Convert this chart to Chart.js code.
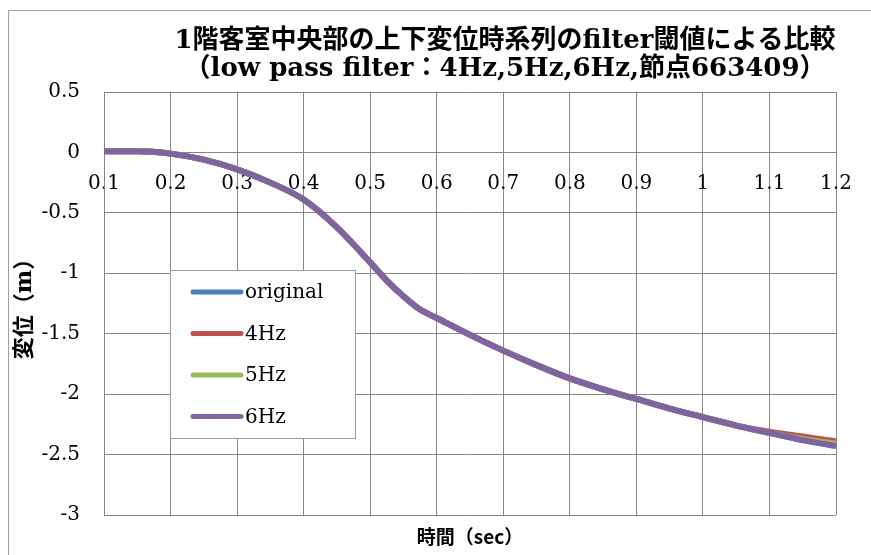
<!DOCTYPE html>
<html>
<head>
<meta charset="utf-8">
<script src="https://cdn.jsdelivr.net/npm/chart.js@4.4.0/dist/chart.umd.min.js"></script>
<style>
  html, body { margin: 0; padding: 0; background: #fff; }
  canvas { display: block; }
</style>
</head>
<body>
<canvas id="chart" width="871" height="555"></canvas>
<script>
const titleLines = [
  "1階客室中央部の上下変位時系列のfilter閾値による比較",
  "（low pass filter：4Hz,5Hz,6Hz,節点663409）",
];
const xTitle = "時間（sec）";
const yTitle = "変位（m）";
const xTicks = [0.1, 0.2, 0.3, 0.4, 0.5, 0.6, 0.7, 0.8, 0.9, 1, 1.1, 1.2];
const yTicks = [0.5, 0, -0.5, -1, -1.5, -2, -2.5, -3];

const seriesNames = ["original", "4Hz", "5Hz", "6Hz"];
const seriesColors = ["#4f81bd", "#c0504d", "#9bbb59", "#8064a2"];

const timeSec = [0.1, 0.15, 0.2, 0.25, 0.3, 0.35, 0.4, 0.45, 0.5, 0.525, 0.55, 0.575, 0.6, 0.65, 0.7, 0.75, 0.8, 0.85, 0.9, 0.95, 1.0, 1.05, 1.1, 1.15, 1.2];
const original = [0.01, 0.01, -0.01, -0.06, -0.14, -0.25, -0.39, -0.62, -0.91, -1.06, -1.19, -1.30, -1.37, -1.51, -1.64, -1.76, -1.87, -1.96, -2.04, -2.12, -2.19, -2.26, -2.32, -2.38, -2.43];
const hz4 = [0.01, 0.01, -0.01, -0.06, -0.14, -0.25, -0.39, -0.62, -0.91, -1.06, -1.19, -1.30, -1.37, -1.51, -1.64, -1.76, -1.87, -1.96, -2.04, -2.12, -2.19, -2.26, -2.31, -2.35, -2.39];
const hz5 = [0.01, 0.01, -0.01, -0.06, -0.14, -0.25, -0.39, -0.62, -0.91, -1.06, -1.19, -1.30, -1.37, -1.51, -1.64, -1.76, -1.87, -1.96, -2.04, -2.12, -2.19, -2.26, -2.32, -2.37, -2.41];
const hz6 = [0.01, 0.01, -0.01, -0.06, -0.14, -0.25, -0.39, -0.62, -0.91, -1.06, -1.19, -1.30, -1.37, -1.51, -1.64, -1.76, -1.87, -1.96, -2.04, -2.12, -2.19, -2.26, -2.32, -2.38, -2.43];
const seriesValues = [original, hz4, hz5, hz6];

const gridColor = "#878787";
const serif = "'DejaVu Serif', 'Noto Sans CJK JP', serif";

// outer frame, title and the boxed legend inside the plot
const decorations = {
  id: "decorations",
  beforeDraw(chart) {
    const ctx = chart.ctx;
    ctx.save();
    ctx.strokeStyle = "#a0a0a0";
    ctx.lineWidth = 1;
    ctx.beginPath();
    ctx.moveTo(8.5, 560);
    ctx.lineTo(8.5, 10.5);
    ctx.lineTo(871, 10.5);
    ctx.stroke();
    ctx.restore();
  },
  afterDraw(chart) {
    const ctx = chart.ctx;
    ctx.save();
    ctx.fillStyle = "#000";
    ctx.textAlign = "center";
    ctx.textBaseline = "middle";
    ctx.font = "bold 26px " + serif;
    ctx.fillText(titleLines[0], 505, 41);
    ctx.fillText(titleLines[1], 505, 69);

    ctx.fillStyle = "#fff";
    ctx.fillRect(170, 270, 185, 168);
    ctx.strokeStyle = "#8d9cb2";
    ctx.lineWidth = 1;
    ctx.strokeRect(170.5, 270.5, 185, 168);
    ctx.font = "20px " + serif;
    ctx.textAlign = "left";
    chart.data.datasets.forEach((ds, i) => {
      const y = 292 + i * 41.5;
      ctx.strokeStyle = ds.borderColor;
      ctx.lineWidth = 5;
      ctx.lineCap = "round";
      ctx.beginPath();
      ctx.moveTo(193, y);
      ctx.lineTo(241, y);
      ctx.stroke();
      ctx.fillStyle = "#000";
      ctx.fillText(ds.label, 245, y + 1);
    });
    ctx.restore();
  },
};

const chrt = document.getElementById("chart").getContext("2d");
const chartId = new Chart(chrt, {
  type: "line",
  data: {
    datasets: seriesNames.map((name, i) => ({
      label: name,
      data: timeSec.map((t, j) => ({ x: t, y: seriesValues[i][j] })),
      borderColor: seriesColors[i],
      backgroundColor: seriesColors[i],
      borderWidth: 6,
      pointRadius: 0,
      tension: 0.4,
      cubicInterpolationMode: "monotone",
      order: seriesNames.length - i,
    })),
  },
  options: {
    responsive: false,
    animation: false,
    layout: { padding: { left: 0, top: 92, right: 35, bottom: 0 } },
    plugins: {
      legend: { display: false },
      title: { display: false },
      tooltip: { enabled: false },
    },
    scales: {
      x: {
        type: "linear",
        position: { y: 0 },
        min: 0.1,
        max: 1.2,
        afterBuildTicks: (s) => { s.ticks = xTicks.map((v) => ({ value: v })); },
        ticks: {
          autoSkip: false,
          maxRotation: 0,
          padding: 19,
          color: "#000",
          font: { family: serif, size: 20 },
          callback: (v) => String(Math.round(v * 10) / 10),
        },
        grid: { color: gridColor, lineWidth: 1, drawTicks: false },
        border: { color: gridColor, width: 1 },
      },
      x2: {
        type: "linear",
        position: "bottom",
        afterFit: (s) => { s.height = 40; },
        ticks: { display: false },
        grid: { display: false },
        border: { display: false },
        title: {
          display: true,
          text: xTitle,
          color: "#000",
          font: { family: "'Noto Sans CJK JP', sans-serif", size: 19, weight: "bold" },
          padding: { top: 0, bottom: 7 },
        },
      },
      y: {
        type: "linear",
        min: -3,
        max: 0.5,
        afterBuildTicks: (s) => { s.ticks = yTicks.map((v) => ({ value: v })); },
        afterFit: (s) => { s.width = 104; },
        ticks: {
          padding: 24,
          color: "#000",
          font: { family: serif, size: 20 },
          callback: (v) => String(v),
        },
        grid: { color: gridColor, lineWidth: 1, drawTicks: false },
        border: { color: gridColor, width: 1 },
        title: {
          display: true,
          text: yTitle,
          color: "#000",
          font: { family: serif, size: 22, weight: "bold" },
          padding: { top: 12, bottom: 0 },
        },
      },
    },
  },
  plugins: [decorations],
});
</script>
</body>
</html>
